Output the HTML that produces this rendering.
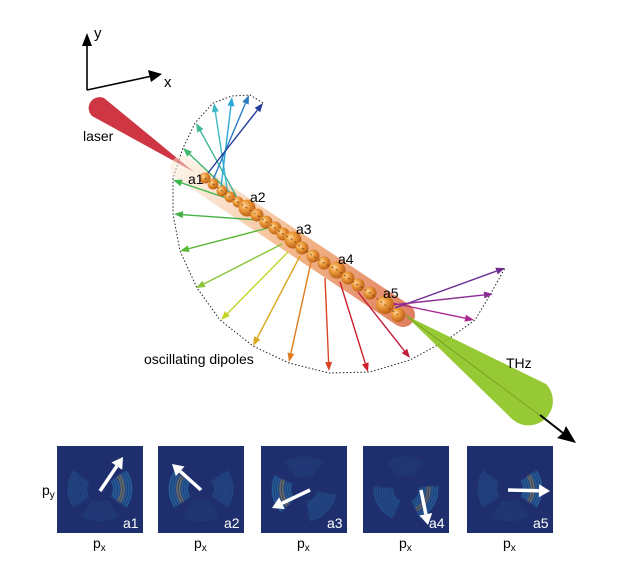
<!DOCTYPE html>
<html><head><meta charset="utf-8"><style>
html,body{margin:0;padding:0;background:#fff;}
svg{display:block;font-family:"Liberation Sans",Arial,sans-serif;}
</style></head><body>
<svg id="s" width="618" height="568" viewBox="0 0 618 568" xmlns="http://www.w3.org/2000/svg">
<defs>
<radialGradient id="bead" cx="0.35" cy="0.35" r="0.7">
<stop offset="0" stop-color="#ffd9a0"/><stop offset="0.35" stop-color="#f0a040"/><stop offset="1" stop-color="#b85a10"/>
</radialGradient>
<linearGradient id="tube" x1="175" y1="165" x2="410" y2="320" gradientUnits="userSpaceOnUse">
<stop offset="0" stop-color="#fbe7d3" stop-opacity="0.5"/><stop offset="0.5" stop-color="#f3b88a"/><stop offset="1" stop-color="#e08060"/>
</linearGradient>
<filter id="bl"><feGaussianBlur stdDeviation="0.6"/></filter>
</defs>
<g stroke="#000" stroke-width="1.6" fill="none">
<line x1="87" y1="90" x2="87" y2="42"/><line x1="87" y1="90" x2="152" y2="76"/>
</g>
<polygon points="87,33 82,46 92,46" fill="#000"/>
<polygon points="162,74 148,70 151,82" fill="#000"/>
<text x="94" y="38" font-size="15">y</text>
<text x="164" y="87" font-size="15">x</text>
<path d="M194,172 L104,98 A11,11 0 0 0 92,116 Z" fill="#c8202e" opacity="0.9"/>
<text x="83" y="141" font-size="14">laser</text>
<polyline points="263,103 250,95 232,96 213,103 195,123 183,148 173,178 173,214 180,251 197,288 220,320 253,346 289,363 329,373 370,372 410,360 447,340 475,320 490,295 505,268" fill="none" stroke="#222" stroke-width="1" stroke-dasharray="1.5 2"/>
<line x1="182" y1="168" x2="403" y2="315" stroke="url(#tube)" stroke-width="24" stroke-linecap="round"/>
<g id="arrows"></g>
<path d="M405,315 L511,418 A24,24 0 1 0 546,384 Z" fill="#8cc31f" opacity="0.9"/>
<line x1="405" y1="315" x2="542" y2="417" stroke="#5f8a1a" stroke-width="1" opacity="0.6"/>
<line x1="540" y1="415" x2="563" y2="433" stroke="#000" stroke-width="2"/>
<polygon points="576,443 557,438 563,433 566,426" fill="#000"/>
<text x="506" y="368" font-size="14">THz</text>
<g id="beads"></g>
<g font-size="14">
<text x="188" y="184">a1</text><text x="250" y="202">a2</text><text x="296" y="234">a3</text><text x="338" y="264">a4</text><text x="383" y="298">a5</text>
</g>
<text x="144" y="364" font-size="14">oscillating dipoles</text>
<g id="panels"></g>
<text x="42" y="495" font-size="14">p<tspan font-size="10" dy="3">y</tspan></text>
</svg>
<script>
var NS="http://www.w3.org/2000/svg";
function el(t,a,p){var e=document.createElementNS(NS,t);for(var k in a)e.setAttribute(k,a[k]);p.appendChild(e);return e;}
var A=document.getElementById("arrows");
function arrow(x1,y1,x2,y2,c,w,hl,hw,g){
 var dx=x2-x1,dy=y2-y1,L=Math.hypot(dx,dy),ux=dx/L,uy=dy/L;
 var bx=x2-ux*hl,by=y2-uy*hl;
 el("line",{x1:x1,y1:y1,x2:bx,y2:by,stroke:c,"stroke-width":w},g);
 el("polygon",{points:x2+","+y2+" "+(bx-uy*hw)+","+(by+ux*hw)+" "+(bx+uy*hw)+","+(by-ux*hw),fill:c},g);
}
var arr=[
[247,205,173,180,"#3cb54a"],[238,200,183,148,"#3fb870"],[240,203,196,123,"#43b79a"],[228,195,214,103,"#3fbac8"],
[220,195,232,97,"#2aa8d8"],[213,180,249,95,"#2c7cc4"],[208,173,263,103,"#243d9a"],
[258,220,174,214,"#46b045"],[268,228,180,251,"#5cb838"],[282,244,196,288,"#8cc43c"],[288,252,221,320,"#c6d42a"],
[300,256,253,346,"#d9a81f"],[311,262,289,362,"#e07b1f"],[325,278,329,371,"#d94527"],[340,282,368,372,"#cc1f2b"],[358,292,410,358,"#c21e3e"],
[395,308,505,268,"#6a2d91"],[392,305,493,294,"#8b2c95"],[392,303,474,320,"#a8288f"]];
arr.forEach(function(a){arrow(a[0],a[1],a[2],a[3],a[4],1.4,9,3.5,A);});
var B=document.getElementById("beads");
var bd=[[205,178,5.5],[213,184,5.5],[222,191,5.5],[230,197,5.5],[238,202,5.5],[247,208,8.5],[257,215,6.5],[266,222,6.5],[275,228,6.5],[283,234,6.5],[293,240,8.5],[302,248,6.5],[313,256,6.5],[324,263,6.5],[337,270,8.5],[348,278,6.5],[358,285,6.5],[370,293,6.5],[385,305,9],[398,315,7]];
bd.forEach(function(b){el("circle",{cx:b[0],cy:b[1],r:b[2],fill:"url(#bead)"},B);});
el("polyline",{points:bd.map(function(b){return b[0]+","+b[1]}).join(" "),fill:"none",stroke:"#6a3a10","stroke-width":0.8,"stroke-dasharray":"2 3"},B);
var P=document.getElementById("panels");
var pans=[
{x:57,lab:"a1",blobs:[[0,1],[180,0.5],[90,0.25]],ar:[100,491,123,457]},
{x:158,lab:"a2",blobs:[[180,1],[0,0.5],[90,0.2]],ar:[201,490,172,464]},
{x:261,lab:"a3",blobs:[[170,1],[45,0.55],[270,0.25]],ar:[310,490,272,508]},
{x:363,lab:"a4",blobs:[[30,0.9],[150,0.65],[270,0.2]],ar:[421,490,428,525]},
{x:467,lab:"a5",blobs:[[0,1],[180,0.45],[90,0.2]],ar:[508,490,550,491]}];
pans.forEach(function(p){
 el("rect",{x:p.x,y:446,width:86,height:87,fill:"#1f2f6e"},P);
 var cx=p.x+43,cy=489;
 p.blobs.forEach(function(b){
  var g=el("g",{fill:"none","stroke-width":1,"stroke-dasharray":"70 290","stroke-dashoffset":(35-b[0]),opacity:b[1]*0.75,filter:"url(#bl)"},P);
  for(var r=14;r<=32;r+=2.5){
   var col=(b[1]>0.85&&r>19&&r<26)?"#c8c860":"#2fa0d0";
   el("circle",{cx:cx,cy:cy,r:r,pathLength:360,stroke:col},g);
  }
 });
 var a=p.ar;arrow(a[0],a[1],a[2],a[3],"#fff",3.5,11,6.5,P);
 var t=el("text",{x:p.x+66,y:528,"font-size":14,fill:"#fff"},P);t.textContent=p.lab;
 var t2=el("text",{x:p.x+36,y:548,"font-size":14,fill:"#000"},P);t2.textContent="p";
 var s=el("tspan",{"font-size":10,dy:3},t2);s.textContent="x";
});
</script>
</body></html>
